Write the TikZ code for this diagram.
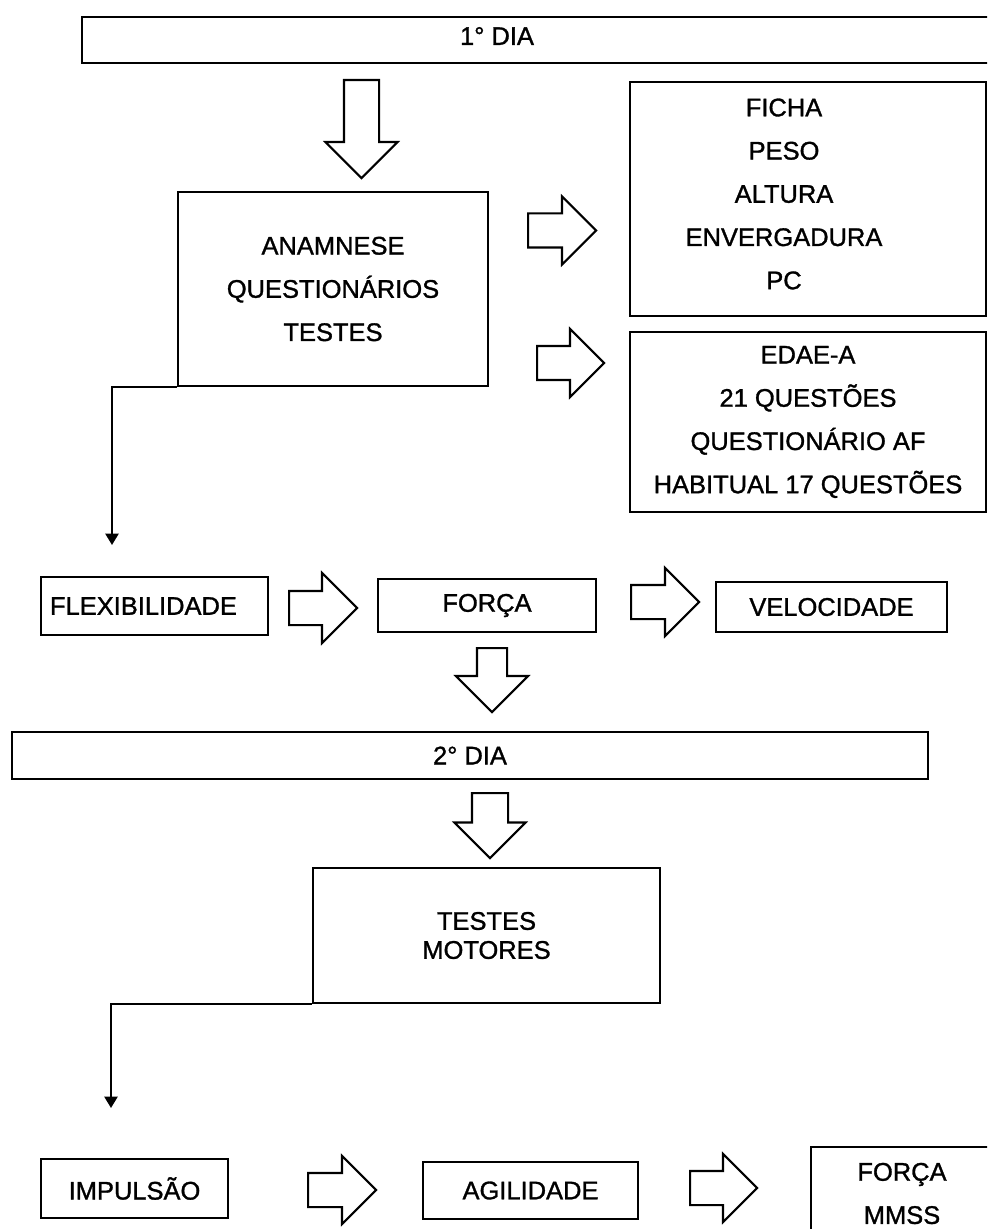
\documentclass[tikz,border=0pt]{standalone}
\usepackage{fontspec}
\setmainfont{Liberation Sans}[RawFeature={embolden=1.2}]
\usetikzlibrary{shapes.arrows, arrows.meta}

\begin{document}
\begin{tikzpicture}[
        x=0.02cm, y=-0.02cm,
        box/.style={rectangle, draw, line width=1.2pt, text centered, align=center, inner sep=0pt, font=\fontsize{14.5pt}{24.6pt}\selectfont},
        txt/.style={align=center, inner sep=0pt, font=\fontsize{14.5pt}{24.6pt}\selectfont},
        bigarrow/.style={single arrow, draw, line width=1.2pt, anchor=tail, single arrow head indent=0pt, inner xsep=0pt, inner ysep=0.32cm, text height=0pt, text depth=0pt, single arrow head extend=0.34cm, minimum height=1.36cm},
        line/.style={draw, line width=1.2pt, -{Triangle[length=6.5pt, width=7.5pt]}}
    ]
        \useasboundingbox (0,0) rectangle (987,1229);
        \clip (0,0) rectangle (987,1229);

        \node [box, minimum width=18.56cm, minimum height=0.92cm, label={[txt, xshift=-0.98cm, yshift=0.08cm]center:1° DIA}] (dia1) at (546,40) {};
        \node [box, minimum width=6.2cm, minimum height=3.88cm] (anam) at (333,289) {ANAMNESE\\QUESTIONÁRIOS\\TESTES};
        \node [box, minimum width=7.12cm, minimum height=4.68cm, label={[txt, xshift=-0.48cm, yshift=0.1cm]center:FICHA\\PESO\\ALTURA\\ENVERGADURA\\PC}] (ficha) at (808,199) {};
        \node [box, minimum width=7.12cm, minimum height=3.6cm] (edae) at (808,422) {EDAE-A\\21 QUESTÕES\\QUESTIONÁRIO AF\\HABITUAL 17 QUESTÕES};
        \node [box, minimum width=4.54cm, minimum height=1.16cm, text width=4.18cm, align=left, inner xsep=0.18cm] (flex) at (154.5,606) {FLEXIBILIDADE};
        \node [box, minimum width=4.36cm, minimum height=1.06cm] (forca) at (487,605.5) {FORÇA};
        \node [box, minimum width=4.62cm, minimum height=1cm] (velo) at (831.5,607) {VELOCIDADE};
        \node [box, minimum width=18.32cm, minimum height=0.94cm] (dia2) at (470,755.5) {2° DIA};
        \node [box, minimum width=6.94cm, minimum height=2.7cm, font=\fontsize{14.5pt}{16.5pt}\selectfont] (testes) at (486.5,935.5) {TESTES\\MOTORES};
        \node [box, minimum width=3.74cm, minimum height=1.18cm] (impul) at (134.5,1188.5) {IMPULSÃO};
        \node [box, minimum width=4.3cm, minimum height=1.14cm] (agil) at (530.5,1190.5) {AGILIDADE};
        \node [box, minimum width=3.64cm, minimum height=1.86cm] (mmss) at (902,1193.5) {FORÇA\\MMSS};

        \node [bigarrow, rotate=-90, minimum height=1.96cm, inner ysep=0.33cm, single arrow head extend=0.37cm] (toanam) at (361.5,79) {};
        \node [bigarrow] (toficha) at (527,230.5) {};
        \node [bigarrow, minimum height=1.34cm] (toedae) at (536,363) {};
        \node [bigarrow, single arrow head extend=0.36cm] (toforca) at (288,608) {};
        \node [bigarrow] (tovelo) at (630,602) {};
        \node [bigarrow, rotate=-90, minimum height=1.28cm, inner ysep=0.28cm, single arrow head extend=0.42cm] (todia2) at (492,647) {};
        \node [bigarrow, rotate=-90, minimum height=1.3cm, inner ysep=0.34cm, single arrow head extend=0.35cm] (totestes) at (490,792) {};
        \node [bigarrow] (toagil) at (307,1190) {};
        \node [bigarrow, minimum height=1.34cm] (tommss) at (689,1188) {};

        \coordinate (flexin) at (112,545);
        \coordinate (impin) at (111,1108);
        \path [line] (anam.south west) -| (flexin);
        \path [line] (testes.south west) -| (impin);
    \end{tikzpicture}
\end{document}
